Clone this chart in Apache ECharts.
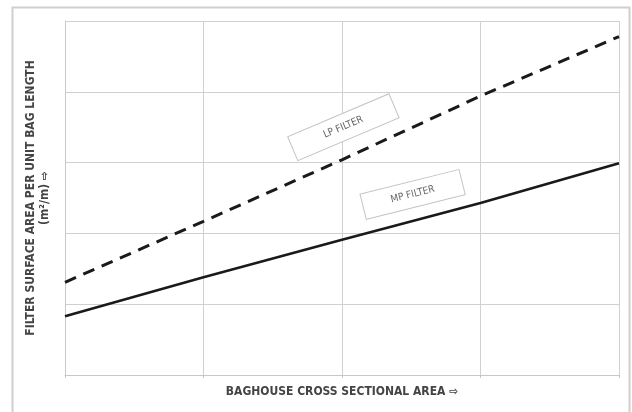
<!DOCTYPE html>
<html>
<head>
<meta charset="utf-8">
<script src="https://cdn.jsdelivr.net/npm/echarts@6/dist/echarts.min.js"></script>
<style>
  html, body { margin: 0; padding: 0; background: #fff; }
  #main { width: 632px; height: 412px; }
</style>
</head>
<body>
<div id="main"></div>
<script>
    // data (no units on the axes)
    var xValues = [0, 1, 2, 3, 4];
    var lpFilter = [1.31, 2.17, 3.04, 3.94, 4.78];
    var mpFilter = [0.83, 1.38, 1.91, 2.43, 2.99];

    var font = '"Liberation Sans Narrow", "DejaVu Sans Condensed", "Liberation Sans", sans-serif';

    var myChart = echarts.init(document.getElementById('main'));

    function pairs(ys) {
        return xValues.map(function (x, i) { return [x, ys[i]]; });
    }

    var option = {
        animation: false,
        backgroundColor: '#fff',
        grid: { left: 65, right: 13, top: 21, bottom: 37 },
        xAxis: {
            type: 'value',
            min: 0, max: 4, interval: 1,
            name: 'BAGHOUSE CROSS SECTIONAL AREA \u21E8',
            nameLocation: 'middle',
            nameGap: 11,
            nameTextStyle: { color: '#444', fontSize: 12, fontWeight: 'bold', fontFamily: font },
            axisLabel: { show: false },
            axisLine: { lineStyle: { color: '#c8c8c8', width: 1 } },
            axisTick: { show: true, length: 3, lineStyle: { color: '#c8c8c8' } },
            splitLine: { show: true, lineStyle: { color: '#d0d0d0', width: 1 } }
        },
        yAxis: {
            type: 'value',
            min: 0, max: 5, interval: 1,
            name: 'FILTER SURFACE AREA PER UNIT BAG LENGTH\n(m\u00B2/m) \u21E8',
            nameLocation: 'middle',
            nameGap: 13,
            nameRotate: 90,
            nameTextStyle: { color: '#444', fontSize: 12, fontWeight: 'bold', fontFamily: font, lineHeight: 14 },
            axisLabel: { show: false },
            axisLine: { show: true, lineStyle: { color: '#c8c8c8', width: 1 } },
            axisTick: { show: false },
            splitLine: { show: true, lineStyle: { color: '#d0d0d0', width: 1 } }
        },
        series: [
            {
                name: 'LP FILTER',
                type: 'line',
                data: pairs(lpFilter),
                showSymbol: false,
                lineStyle: { color: '#1a1a1a', width: 3, type: [12, 8] }
            },
            {
                name: 'MP FILTER',
                type: 'line',
                data: pairs(mpFilter),
                showSymbol: false,
                lineStyle: { color: '#1a1a1a', width: 2.5 }
            }
        ]
    };

    myChart.setOption(option);

    // annotation boxes, placed in data coordinates
    function tag(label, at, angleDeg, w, h) {
        var p = myChart.convertToPixel({ gridIndex: 0 }, at);
        return {
            type: 'group',
            x: p[0], y: p[1],
            rotation: angleDeg * Math.PI / 180,
            children: [
                { type: 'rect', shape: { x: -w / 2, y: -h / 2, width: w, height: h },
                  style: { fill: '#fff', stroke: '#c4c4c4', lineWidth: 1 } },
                { type: 'text', x: 0, y: 0,
                  style: { text: label, fill: '#666', font: '10px ' + font, align: 'center', verticalAlign: 'middle' } }
            ]
        };
    }

    myChart.setOption({
        graphic: [
            // outer frame of the figure
            { type: 'rect', z: -1, shape: { x: 12.5, y: 7.5, width: 617, height: 420 },
              style: { fill: 'none', stroke: '#cfcfcf', lineWidth: 2 } },
            tag('LP FILTER', [2.01, 3.50], 23, 110, 26),
            tag('MP FILTER', [2.51, 2.55], 14, 102, 26)
        ]
    });
</script>
</body>
</html>
